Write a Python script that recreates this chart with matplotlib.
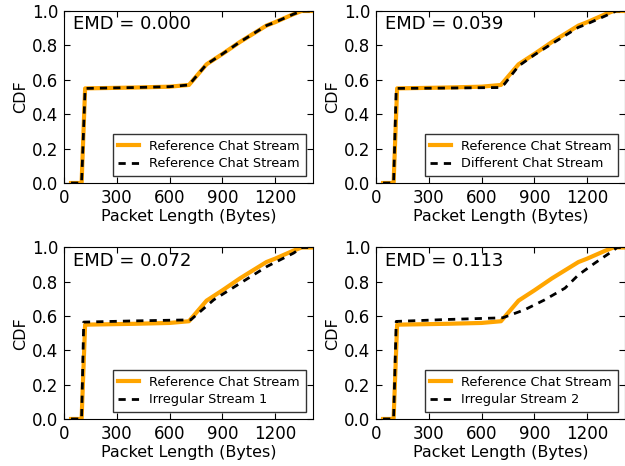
import matplotlib
matplotlib.use("Agg")
import matplotlib.pyplot as plt

# reference chat stream (same curve in every panel)
ref_x = [40, 100, 120, 400, 600, 710, 810, 900, 1000, 1150, 1200, 1300, 1350, 1415]
ref_y = [0, 0, 0.55, 0.555, 0.56, 0.57, 0.69, 0.75, 0.82, 0.915, 0.935, 0.98, 1.0, 1.0]

diff_x = [40, 100, 115, 400, 700, 730, 810, 900, 1000, 1150, 1200, 1300, 1365, 1415]
diff_y = [0, 0, 0.55, 0.552, 0.555, 0.575, 0.68, 0.745, 0.81, 0.905, 0.925, 0.97, 1.0, 1.0]

irr1_x = [40, 100, 112, 400, 720, 851, 1002, 1153, 1304, 1352, 1415]
irr1_y = [0, 0, 0.565, 0.572, 0.578, 0.695, 0.792, 0.889, 0.967, 1.0, 1.0]

irr2_x = [40, 100, 115, 400, 720, 845, 959, 1074, 1150, 1245, 1341, 1370, 1415]
irr2_y = [0, 0, 0.569, 0.58, 0.59, 0.637, 0.695, 0.763, 0.84, 0.91, 0.977, 1.0, 1.0]

emd_values = [0.000, 0.039, 0.072, 0.113]
other_labels = ["Reference Chat Stream", "Different Chat Stream",
                "Irregular Stream 1", "Irregular Stream 2"]
others = [(ref_x, ref_y), (diff_x, diff_y), (irr1_x, irr1_y), (irr2_x, irr2_y)]

plt.rcParams['font.family'] = ['DejaVu Sans']

fig = plt.figure(figsize=(6.25, 4.66), dpi=100)

positions = [
    [0.1024, 0.6073, 0.3984, 0.3691],
    [0.6016, 0.6073, 0.3984, 0.3691],
    [0.1024, 0.1009, 0.3984, 0.3680],
    [0.6016, 0.1009, 0.3984, 0.3680],
]

for i in range(4):
    ax = fig.add_axes(positions[i])
    ox, oy = others[i]
    ax.plot(ref_x, ref_y, color='#FFA500', lw=3, label="Reference Chat Stream")
    ax.plot(ox, oy, color='black', lw=2, ls=(0, (2.6, 2.2)), label=other_labels[i])

    ax.set_xlim(0, 1415)
    ax.set_ylim(0, 1.0)
    ax.set_xticks([0, 300, 600, 900, 1200])
    ax.set_yticks([0, 0.2, 0.4, 0.6, 0.8, 1.0])
    ax.set_yticklabels(["0.0", "0.2", "0.4", "0.6", "0.8", "1.0"])
    ax.tick_params(direction='in', top=True, right=True, length=4,
                   labelsize=12, pad=4)
    ax.set_xlabel("Packet Length (Bytes)", fontsize=11.5, labelpad=2)
    ax.set_ylabel("CDF", fontsize=11.5, labelpad=3)
    ax.text(0.035, 0.975, "EMD = %.3f" % emd_values[i], transform=ax.transAxes,
            fontsize=13, va='top', ha='left')

    leg = ax.legend(loc='lower right', fontsize=9.3, fancybox=False,
                    handlelength=1.6, borderpad=0.45, labelspacing=0.35,
                    borderaxespad=0.55)
    leg.get_frame().set_edgecolor('black')
    leg.get_frame().set_linewidth(1.0)

fig.savefig("out.png", dpi=100)
